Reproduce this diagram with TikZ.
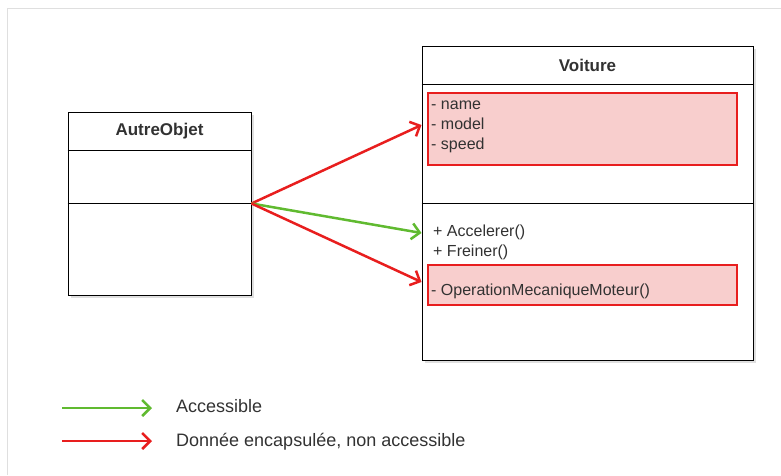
\documentclass[tikz,border=0pt]{standalone}
\usepackage{fontspec}
\setmainfont{Liberation Sans}
\usetikzlibrary{positioning,arrows.meta,shadows}

\definecolor{accgreen}{RGB}{96,186,48}
\definecolor{encred}{RGB}{232,30,30}
\definecolor{encfill}{RGB}{248,206,205}
\definecolor{txtgray}{RGB}{50,50,50}

\tikzset{
  classbox/.style={draw, line width=1pt, fill=white, inner sep=0pt,
    drop shadow={shadow xshift=3pt, shadow yshift=-3pt, opacity=0.25}},
  privbox/.style={draw=encred, line width=1.2pt, fill=encfill, inner sep=0pt},
  title/.style={font=\fontsize{17}{20}\selectfont\bfseries, text=txtgray},
  member/.style={font=\fontsize{16}{20}\selectfont, text=txtgray, align=left, inner sep=0pt},
  legend/.style={font=\fontsize{18}{20}\selectfont, text=txtgray, inner sep=0pt},
  link/.style={line width=2.5pt, -{Straight Barb[length=8pt,width=16pt]}},
}

\begin{document}
\begin{tikzpicture}[x=1pt,y=-1pt]
\useasboundingbox (0,0) rectangle (781,475);
\draw[gray!25, line width=1pt] (7,475) -- (7,8) -- (781,8);

% classe AutreObjet
\node[classbox, minimum width=183pt, minimum height=183pt] (autre) at (159.5,203.5) {};
\draw[line width=1pt] (autre.west |- 0,150) -- (autre.east |- 0,150);
\draw[line width=1pt] (autre.west) -- (autre.east);
\node[title] (autreTitle) at (159.5,131) {AutreObjet};

% classe Voiture
\node[classbox, minimum width=331pt, minimum height=314pt] (voiture) at (587.5,203) {};
\draw[line width=1pt] (voiture.west |- 0,84) -- (voiture.east |- 0,84);
\draw[line width=1pt] (voiture.west) -- (voiture.east);
\node[title] (voitureTitle) at (587.5,65) {Voiture};

\node[privbox, minimum width=309pt, minimum height=72pt] (attrs) at (582.5,129) {};
\node[member, anchor=west] (attrTxt) at (431,127) {- name\\- model\\- speed};
\node[member, anchor=west] (opsTxt) at (433,242) {+ Accelerer()\\+ Freiner()};
\node[privbox, minimum width=309pt, minimum height=40pt] (privOps) at (582.5,285) {};
\node[member, anchor=west] (privTxt) at (431,291) {- OperationMecaniqueMoteur()};

% liens
\coordinate (toAttrs) at (voiture.west |- 0,125);
\coordinate (toOps) at (voiture.west |- 0,233);
\coordinate (toPriv) at (voiture.west |- 0,282);
\draw[link, encred] (autre.east) -- (toAttrs);
\draw[link, accgreen] (autre.east) -- (toOps);
\draw[link, encred] (autre.east) -- (toPriv);

% legende
\coordinate (accStart) at (62,408);
\coordinate (accEnd) at (152,408);
\coordinate (encStart) at (62,441);
\coordinate (encEnd) at (152,441);
\draw[link, accgreen] (accStart) -- (accEnd);
\draw[link, encred] (encStart) -- (encEnd);
\node[legend, anchor=west] (accTxt) at (176,406) {Accessible};
\node[legend, anchor=west] (encTxt) at (176,442) {Donnée encapsulée, non accessible};
\end{tikzpicture}
\end{document}
